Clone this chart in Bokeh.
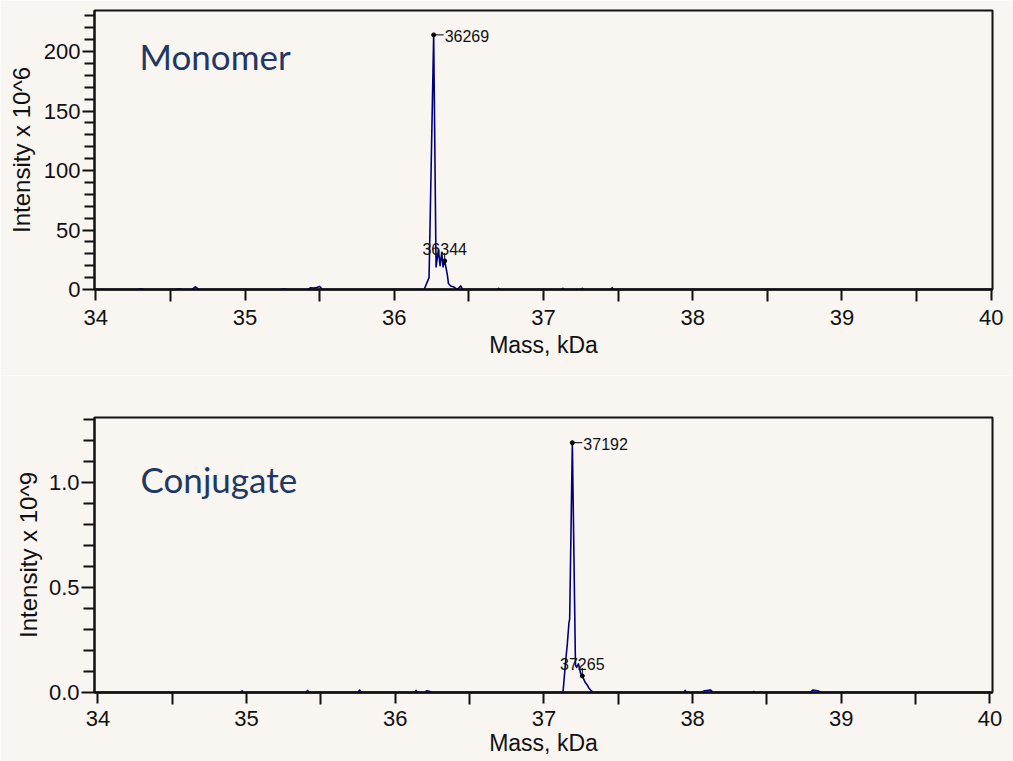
import math
from bokeh.plotting import figure
from bokeh.layouts import column
from bokeh.models import FixedTicker, Range1d, NumeralTickFormatter, Label, BoxAnnotation
from bokeh.core.properties import value
from bokeh.embed import file_html
from bokeh.resources import INLINE

# ---------------- data ----------------
x_major_ticks = [34, 35, 36, 37, 38, 39, 40]
x_minor_ticks = [34.5, 35.5, 36.5, 37.5, 38.5, 39.5]

mono_y_major = [0, 50, 100, 150, 200]
mono_y_minor = [10, 20, 30, 40, 60, 70, 80, 90, 110, 120, 130, 140, 160, 170, 180, 190, 210, 220, 230]
conj_y_major = [0.0, 0.5, 1.0]
conj_y_minor = [0.1, 0.2, 0.3, 0.4, 0.6, 0.7, 0.8, 0.9, 1.1, 1.2, 1.3]

# Monomer spectrum (mass in kDa, intensity x 10^6)
mono_mass = [34.00, 34.28, 34.30, 34.32, 34.54, 34.56, 34.58, 34.645, 34.667, 34.69,
             35.24, 35.26, 35.28, 35.42, 35.44, 35.46, 35.48, 35.50, 35.52,
             36.200, 36.233, 36.264, 36.280, 36.296, 36.307, 36.318, 36.327, 36.338,
             36.356, 36.363, 36.378, 36.400, 36.423, 36.445, 36.458,
             36.69, 36.70, 36.71, 37.12, 37.13, 37.14, 37.25, 37.26, 37.27,
             37.45, 37.46, 37.47, 40.00]
mono_int = [0, 0, 0.6, 0, 0, 0.5, 0, 0, 2.2, 0,
            0, 0.5, 0, 0, 1.5, 1.2, 1.6, 2.5, 0,
            0, 10, 214, 19, 33, 20, 31, 19, 24,
            12, 5, 3, 2, 0, 3, 0,
            0, 1, 0, 0, 1, 0, 0, 1, 0,
            0, 1.5, 0, 0]
mono_peak_mass = [36.264, 36.338]
mono_peak_int = [214, 24]
mono_peak_label = ["36269", "36344"]

# Conjugate spectrum (mass in kDa, intensity x 10^9)
conj_mass = [34.00, 34.96, 34.97, 34.98, 35.40, 35.41, 35.42, 35.75, 35.76, 35.77,
             36.13, 36.14, 36.15, 36.20, 36.21, 36.23, 36.25,
             37.128, 37.146, 37.157, 37.168, 37.173, 37.191, 37.212, 37.220, 37.232,
             37.247, 37.258, 37.276, 37.292, 37.303, 37.321, 37.336,
             37.94, 37.95, 37.96, 38.06, 38.08, 38.12, 38.14, 38.40, 38.41, 38.42,
             38.79, 38.81, 38.84, 38.87, 40.00]
conj_int = [0, 0, 0.008, 0, 0, 0.01, 0, 0, 0.012, 0,
            0, 0.01, 0, 0, 0.008, 0.006, 0,
            0, 0.15, 0.23, 0.33, 0.35, 1.19, 0.13, 0.12, 0.137,
            0.09, 0.079, 0.05, 0.035, 0.02, 0.006, 0,
            0, 0.01, 0, 0, 0.008, 0.012, 0, 0, 0.005, 0,
            0, 0.012, 0.008, 0, 0]
conj_peak_mass = [37.191, 37.258]
conj_peak_int = [1.19, 0.079]
conj_peak_label = ["37192", "37265"]

# ---------------- style ----------------
BG = "#F9F5F1"
LINE = "#00007F"
TITLE_COLOR = "#1F3864"
FONT = "Liberation Sans"
WIDTH = 1013


def make_panel(mass, inten, pk_mass, pk_int, pk_label, y_major, y_minor, y_end,
               x_start, x_end, height, bt, bb, bl, br, ylabel, name, name_x, name_y,
               ytick_out, ytick_minor_out, ylabel_standoff, xtick_standoff, xtitle_standoff,
               fmt=None, baseline_rule=False):
    p = figure(width=WIDTH, height=height, output_backend="svg", toolbar_location=None,
               x_range=Range1d(x_start, x_end), y_range=Range1d(0, y_end),
               min_border_top=bt, min_border_bottom=bb, min_border_left=bl, min_border_right=br)
    p.background_fill_color = BG
    p.border_fill_color = BG
    p.outline_line_color = "#111111"
    p.outline_line_width = 2
    p.grid.visible = False

    if baseline_rule:
        p.add_layout(BoxAnnotation(left=-75, right=WIDTH - bl, bottom=-0.5, top=0.5,
                                   left_units="screen", right_units="screen",
                                   bottom_units="screen", top_units="screen",
                                   fill_color="#A9A7DF", fill_alpha=1.0, line_alpha=0,
                                   level="underlay"))

    p.line(mass, inten, line_color=LINE, line_width=1.6, line_join="round")

    # peak markers and labels
    p.scatter(pk_mass, pk_int, size=4, color="black")
    p.ray(x=[pk_mass[0]], y=[pk_int[0]], length=10, angle=0, length_units="screen",
          line_color="black", line_width=1)
    p.text(x=[pk_mass[0]], y=[pk_int[0]], text=[pk_label[0]], x_offset=11, y_offset=1,
           text_align="left", text_baseline="middle", text_font=value(FONT),
           text_font_size="16px", text_color="#111111")
    p.ray(x=[pk_mass[1]], y=[pk_int[1]], length=8, angle=math.pi / 2, length_units="screen",
          line_color="black", line_width=1)
    p.text(x=[pk_mass[1]], y=[pk_int[1]], text=[pk_label[1]], y_offset=-12,
           text_align="center", text_baseline="alphabetic", text_font=value(FONT),
           text_font_size="16px", text_color="#111111")

    p.add_layout(Label(x=name_x, y=name_y, x_units="screen", y_units="screen", text=name,
                       text_font="Lato", text_font_size="35px", text_color=TITLE_COLOR,
                       text_baseline="alphabetic"))

    xa = p.xaxis[0]
    xa.ticker = FixedTicker(ticks=x_major_ticks, minor_ticks=x_minor_ticks)
    xa.axis_label = "Mass, kDa"
    xa.axis_line_width = 2.5
    xa.axis_line_color = "#111111"
    xa.major_tick_in = 0
    xa.major_tick_out = 11
    xa.minor_tick_in = 0
    xa.minor_tick_out = 12
    xa.major_tick_line_width = 2
    xa.minor_tick_line_width = 2
    xa.major_tick_line_color = "#111111"
    xa.minor_tick_line_color = "#111111"
    xa.major_label_standoff = xtick_standoff
    xa.major_label_text_font = FONT
    xa.major_label_text_font_size = "22px"
    xa.major_label_text_color = "#111111"
    xa.axis_label_text_font = FONT
    xa.axis_label_text_font_size = "23px"
    xa.axis_label_text_font_style = "normal"
    xa.axis_label_text_color = "#111111"
    xa.axis_label_standoff = xtitle_standoff

    ya = p.yaxis[0]
    ya.ticker = FixedTicker(ticks=y_major, minor_ticks=y_minor)
    if fmt:
        ya.formatter = NumeralTickFormatter(format=fmt)
    ya.axis_label = ylabel
    ya.axis_line_width = 2
    ya.axis_line_color = "#111111"
    ya.major_tick_in = 0
    ya.major_tick_out = ytick_out
    ya.minor_tick_in = 0
    ya.minor_tick_out = ytick_minor_out
    ya.major_tick_line_width = 2
    ya.minor_tick_line_width = 2
    ya.major_tick_line_color = "#111111"
    ya.minor_tick_line_color = "#111111"
    ya.major_label_standoff = 2
    ya.major_label_text_font = FONT
    ya.major_label_text_font_size = "22px"
    ya.major_label_text_color = "#111111"
    ya.axis_label_text_font = FONT
    ya.axis_label_text_font_size = "24px"
    ya.axis_label_text_font_style = "normal"
    ya.axis_label_text_color = "#111111"
    ya.axis_label_standoff = ylabel_standoff
    return p


p1 = make_panel(mono_mass, mono_int, mono_peak_mass, mono_peak_int, mono_peak_label,
                mono_y_major, mono_y_minor, 234.5, 33.991, 40.009,
                375, 10, 86, 92, 16, "Intensity x 10^6", "Monomer", 45, 234,
                12, 10, 6, 8, 4)
p2 = make_panel(conj_mass, conj_int, conj_peak_mass, conj_peak_int, conj_peak_label,
                conj_y_major, conj_y_minor, 1.31, 33.977, 40.017,
                386, 42, 69, 94, 21, "Intensity x 10^9", "Conjugate", 46, 214,
                13, 11, 4, 6, 1, fmt="0.0", baseline_rule=True)

layout = column(p1, p2, spacing=0)

open("out.html", "w").write(file_html(layout, INLINE))
